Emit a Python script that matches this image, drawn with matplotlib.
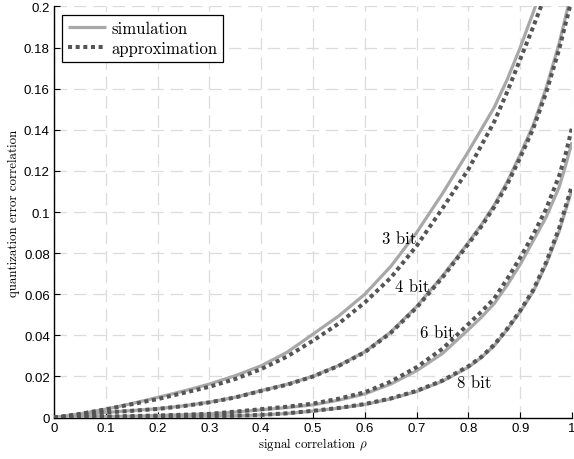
import matplotlib
matplotlib.use("Agg")
import matplotlib.pyplot as plt

# values, per curve (rho, correlation)
rho_3_sim = [0, 0.05, 0.1, 0.15, 0.2, 0.25, 0.3, 0.35, 0.4, 0.45, 0.5, 0.55, 0.6, 0.65,
             0.7, 0.75, 0.8, 0.85, 0.875, 0.9, 0.925, 0.95]
err_3_sim = [0, 0.0018, 0.0041, 0.0068, 0.0098, 0.0129, 0.0163, 0.0204, 0.0252, 0.0318, 0.0406, 0.0495,
             0.0600, 0.0735, 0.0900, 0.1090, 0.1295, 0.1510, 0.1645, 0.1800, 0.1970, 0.2150]
rho_3_apx = [0, 0.05, 0.1, 0.15, 0.2, 0.25, 0.3, 0.35, 0.4, 0.45, 0.5, 0.55, 0.6, 0.65,
             0.7, 0.75, 0.8, 0.85, 0.875, 0.9, 0.925, 0.95, 0.97]
err_3_apx = [0, 0.0018, 0.0040, 0.0065, 0.0090, 0.0120, 0.0150, 0.0188, 0.0236, 0.0297, 0.0374, 0.0458,
             0.0560, 0.0680, 0.0835, 0.1018, 0.1208, 0.1440, 0.1585, 0.1743, 0.1900, 0.2065, 0.2220]

rho_4_sim = [0, 0.05, 0.1, 0.15, 0.2, 0.25, 0.3, 0.35, 0.4, 0.45, 0.5, 0.55, 0.6, 0.65,
             0.7, 0.75, 0.8, 0.825, 0.85, 0.875, 0.9, 0.925, 0.95, 0.975, 1.0]
err_4_sim = [0, 0.0012, 0.0025, 0.0034, 0.0043, 0.0057, 0.0075, 0.0099, 0.0131, 0.0162, 0.0201, 0.0254,
             0.0320, 0.0416, 0.0540, 0.0689, 0.0852, 0.0938, 0.1035, 0.1147, 0.1280, 0.1422, 0.1602, 0.1818, 0.2080]
rho_4_apx = [0, 0.05, 0.1, 0.15, 0.2, 0.25, 0.3, 0.35, 0.4, 0.45, 0.5, 0.55, 0.6, 0.65,
             0.7, 0.75, 0.8, 0.825, 0.85, 0.875, 0.9, 0.925, 0.95, 0.975, 1.0]
err_4_apx = [0, 0.0012, 0.0025, 0.0033, 0.0042, 0.0056, 0.0074, 0.0098, 0.0130, 0.0160, 0.0200, 0.0252,
             0.0318, 0.0412, 0.0535, 0.0682, 0.0845, 0.0930, 0.1025, 0.1135, 0.1265, 0.1405, 0.1580, 0.1790, 0.2040]

rho_6_sim = [0, 0.1, 0.2, 0.3, 0.35, 0.4, 0.45, 0.5, 0.55, 0.6, 0.65, 0.7, 0.75, 0.8,
             0.825, 0.85, 0.875, 0.9, 0.925, 0.95, 0.975, 0.9875, 1.0]
err_6_sim = [0, 0.0005, 0.0010, 0.0018, 0.0027, 0.0038, 0.0049, 0.0062, 0.0085, 0.0115, 0.0163, 0.0228,
             0.0312, 0.0428, 0.0488, 0.0555, 0.0645, 0.0745, 0.0860, 0.0975, 0.1120, 0.1225, 0.1340]
rho_6_apx = [0, 0.1, 0.2, 0.3, 0.35, 0.4, 0.45, 0.5, 0.55, 0.6, 0.65, 0.7, 0.75, 0.8,
             0.825, 0.85, 0.875, 0.9, 0.925, 0.95, 0.975, 0.9875, 1.0]
err_6_apx = [0, 0.0005, 0.0010, 0.0018, 0.0029, 0.0041, 0.0053, 0.0068, 0.0092, 0.0123, 0.0175, 0.0245,
             0.0335, 0.0455, 0.0515, 0.0580, 0.0675, 0.0778, 0.0890, 0.1015, 0.1175, 0.1280, 0.1410]

rho_8_sim = [0, 0.1, 0.2, 0.3, 0.35, 0.4, 0.45, 0.5, 0.55, 0.6, 0.65, 0.7, 0.75, 0.8,
             0.825, 0.85, 0.875, 0.9, 0.925, 0.95, 0.975, 1.0]
err_8_sim = [0, 0.0002, 0.0004, 0.0007, 0.0009, 0.0013, 0.0020, 0.0032, 0.0046, 0.0064, 0.0091, 0.0127,
             0.0177, 0.0245, 0.0292, 0.0350, 0.0428, 0.0515, 0.0612, 0.0745, 0.0905, 0.1110]
rho_8_apx = [0, 0.1, 0.2, 0.3, 0.35, 0.4, 0.45, 0.5, 0.55, 0.6, 0.65, 0.7, 0.75, 0.8,
             0.825, 0.85, 0.875, 0.9, 0.925, 0.95, 0.975, 1.0]
err_8_apx = [0, 0.0002, 0.0004, 0.0007, 0.0009, 0.0013, 0.0021, 0.0033, 0.0047, 0.0066, 0.0093, 0.0130,
             0.0180, 0.0250, 0.0295, 0.0355, 0.0432, 0.0520, 0.0620, 0.0755, 0.0920, 0.1130]

bit_labels = ["3 bit", "4 bit", "6 bit", "8 bit"]
label_pos = [(0.633, 0.087), (0.658, 0.064), (0.707, 0.0416), (0.778, 0.0173)]

x_ticks = [0, 0.1, 0.2, 0.3, 0.4, 0.5, 0.6, 0.7, 0.8, 0.9, 1]
x_tick_labels = ["0", "0.1", "0.2", "0.3", "0.4", "0.5", "0.6", "0.7", "0.8", "0.9", "1"]
y_ticks = [0, 0.02, 0.04, 0.06, 0.08, 0.1, 0.12, 0.14, 0.16, 0.18, 0.2]
y_tick_labels = ["0", "0.02", "0.04", "0.06", "0.08", "0.1", "0.12", "0.14", "0.16", "0.18", "0.2"]

sim_color = "#a8a8a8"
apx_color = "#555555"
serif = "cmr10"

plt.rcParams["mathtext.fontset"] = "cm"
plt.rcParams["axes.unicode_minus"] = False

fig = plt.figure(figsize=(5.74, 4.6), dpi=100)
ax = fig.add_axes([0.094, 0.09, 0.9025, 0.8937])

sims = [(rho_3_sim, err_3_sim), (rho_4_sim, err_4_sim), (rho_6_sim, err_6_sim), (rho_8_sim, err_8_sim)]
apxs = [(rho_3_apx, err_3_apx), (rho_4_apx, err_4_apx), (rho_6_apx, err_6_apx), (rho_8_apx, err_8_apx)]

for i, (r, e) in enumerate(sims):
    ax.plot(r, e, color=sim_color, lw=2.3, solid_capstyle="butt",
            label="simulation" if i == 0 else None, zorder=3)
for i, (r, e) in enumerate(apxs):
    ax.plot(r, e, color=apx_color, lw=2.9, linestyle=(0, (1, 0.9)), dash_capstyle="butt",
            label="approximation" if i == 0 else None, zorder=4)

for txt, (px, py) in zip(bit_labels, label_pos):
    ax.text(px, py, txt, fontfamily=serif, fontsize=12, va="center", ha="left", zorder=5)

ax.set_xlim(0, 1)
ax.set_ylim(0, 0.2)
ax.set_xticks(x_ticks)
ax.set_xticklabels(x_tick_labels, fontfamily="Liberation Sans", fontsize=9.5)
ax.set_yticks(y_ticks)
ax.set_yticklabels(y_tick_labels, fontfamily="Liberation Sans", fontsize=9.5)
ax.tick_params(direction="in", length=4, width=0.8, pad=3)

ax.grid(True, color="#dcdcdc", lw=0.9, linestyle=(0, (10, 5.5)))
ax.set_axisbelow(True)
ax.spines["top"].set_visible(False)
ax.spines["right"].set_visible(False)
ax.spines["left"].set_linewidth(1.0)
ax.spines["bottom"].set_linewidth(1.0)

ax.set_xlabel(r"signal correlation $\rho$", fontfamily=serif, fontsize=9.3, labelpad=1)
ax.set_ylabel("quantization error correlation", fontfamily=serif, fontsize=9.3, labelpad=3)

leg = ax.legend(loc="upper left", prop={"family": serif, "size": 12}, fancybox=False,
                framealpha=1, edgecolor="black", borderpad=0.35, labelspacing=0.3,
                handlelength=2.3, handletextpad=0.3, borderaxespad=0.5)
leg.get_frame().set_linewidth(0.9)

fig.savefig("out.png", dpi=100)
